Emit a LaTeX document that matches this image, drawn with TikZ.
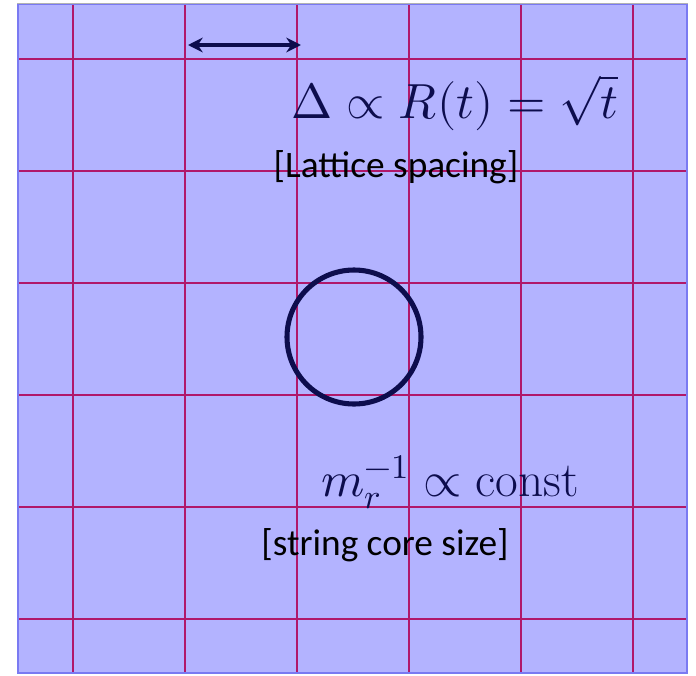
\documentclass[tikz,border=0pt]{standalone}
\usepackage{amsmath,amssymb}
\usepackage{fontspec}
\usepackage{unicode-math}
\newfontfamily\calibri{Carlito}
\usepackage{xcolor}
\usepackage{tikz}
\usetikzlibrary{arrows.meta,positioning}
\definecolor{latFill}{HTML}{B3B3FF}
\definecolor{latEdge}{HTML}{7A7AF2}
\definecolor{latGrid}{HTML}{B0186A}
\definecolor{latNavy}{HTML}{0D0D4D}
\begin{document}
\begin{tikzpicture}[x=0.75pt,y=-0.75pt,
  gridline/.style={latGrid,line width=0.9pt},
  mathlabel/.style={text=latNavy,font=\fontsize{37}{42}\selectfont,inner sep=0pt},
  notelabel/.style={text=black,font=\calibri\fontsize{28}{32}\selectfont,inner sep=0pt}]
  \useasboundingbox (0,0) rectangle (696,675);
  \fill[latFill] (17,3) rectangle (688,674);
  \foreach \x in {73,185,297,409,521,633}{\draw[gridline] (\x,3)--(\x,674);}
  \foreach \y in {59,171,283,395,507,619}{\draw[gridline] (17,\y)--(688,\y);}
  \draw[latEdge,line width=1.6pt] (18,4) rectangle (687,673);
  \draw[gray!60,line width=1pt] (17,3.5)--(688,3.5);
  % lattice spacing
  \coordinate (spanL) at (188,45);
  \coordinate (spanR) at (301,45);
  \draw[latNavy,line width=3pt,{Stealth[length=11pt,width=11pt]}-{Stealth[length=11pt,width=11pt]}]
    (spanL)--(spanR);
  \node[mathlabel] (delta) at (455,103) {$\Delta\propto R(t)=\sqrt{t}$};
  \node[notelabel] (spacing) at (396,167) {[Lattice spacing]};
  % string core
  \draw[latNavy,line width=3.8pt] (354,337) circle[radius=67];
  \node[mathlabel] (mass) at (450,482) {$m_r^{-1}\propto\mathrm{const}$};
  \node[notelabel] (core) at (385,545) {[string core size]};
\end{tikzpicture}
\end{document}
